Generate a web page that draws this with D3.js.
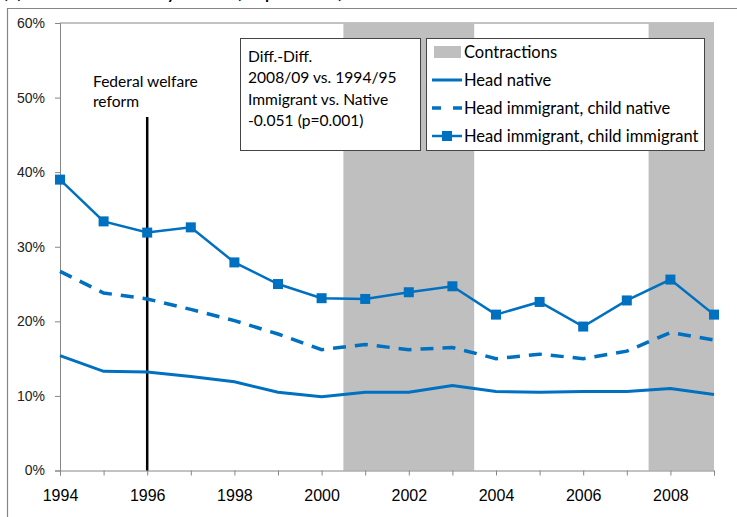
<!DOCTYPE html>
<html>
<head>
<meta charset="utf-8">
<script src="https://cdn.jsdelivr.net/npm/d3@7"></script>
<style>
  body { margin: 0; background: #fff; }
  svg { display: block; font-family: Lato, "Open Sans", sans-serif; }
</style>
</head>
<body>
<svg id="chart" width="737" height="517"></svg>
<script>
// years on the x axis
const years = d3.range(1994, 2010);
// shares (percent)
const headNative = [15.4, 13.3, 13.2, 12.6, 11.9, 10.5, 9.9, 10.5, 10.5, 11.4, 10.6, 10.5, 10.6, 10.6, 11.0, 10.2];
const headImmChildNative = [26.7, 23.8, 23.0, 21.6, 20.1, 18.3, 16.2, 16.9, 16.2, 16.5, 15.0, 15.6, 15.0, 16.0, 18.5, 17.5];
const headImmChildImm = [39.0, 33.4, 31.9, 32.6, 27.9, 25.0, 23.1, 23.0, 23.9, 24.7, 20.9, 22.6, 19.3, 22.8, 25.6, 20.9];
// recession periods, shaded
const contractions = [[2000.5, 2003.5], [2007.5, 2009]];
const yTicks = [0, 10, 20, 30, 40, 50, 60];
const xLabels = [1994, 1996, 1998, 2000, 2002, 2004, 2006, 2008];
const reformYear = 1996;
const diffLines = ["Diff.-Diff.", "2008/09 vs. 1994/95", "Immigrant vs. Native", "-0.051 (p=0.001)"];
const legendLabels = ["Contractions", "Head native", "Head immigrant, child native", "Head immigrant, child immigrant"];

const blue = "#0070C0";
const svg = d3.select("#chart");

const x = d3.scaleLinear().domain([1994, 2009]).range([60, 714]);
const y = d3.scaleLinear().domain([0, 60]).range([470.5, 23]);

// title, mostly cut off at the top
svg.append("text")
  .attr("x", 2).attr("y", -2)
  .attr("font-size", 22).attr("fill", "#000")
  .text("(c) Food insecurity rates (in percent)");

// outer frame
svg.append("path")
  .attr("d", "M7.5,520 V8.5 H740")
  .attr("fill", "none").attr("stroke", "#868686").attr("stroke-width", 1.2);

// plot top border
svg.append("line")
  .attr("x1", x(1994)).attr("x2", x(2009))
  .attr("y1", y(60)).attr("y2", y(60))
  .attr("stroke", "#868686");

// contraction bands
svg.selectAll("rect.band")
  .data(contractions)
  .enter()
  .append("rect")
  .attr("class", "band")
  .attr("x", d => x(d[0]))
  .attr("width", d => x(d[1]) - x(d[0]))
  .attr("y", y(60))
  .attr("height", y(0) - y(60))
  .attr("fill", "#BFBFBF");

// y axis
const yAxis = svg.append("g")
  .attr("transform", `translate(${x(1994)},0)`)
  .call(d3.axisLeft(y).tickValues(yTicks).tickSize(5).tickPadding(10).tickFormat(d => d + "%"));
yAxis.select(".domain").attr("stroke", "#868686");
yAxis.selectAll(".tick line").attr("stroke", "#868686");
yAxis.selectAll("text").attr("font-size", 14).attr("fill", "#222");

// x axis
const xAxis = svg.append("g")
  .attr("transform", `translate(0,${y(0)})`)
  .call(d3.axisBottom(x).tickValues(years).tickSize(5).tickPadding(14).tickFormat(d => xLabels.includes(d) ? d : ""));
xAxis.select(".domain").attr("stroke", "#868686");
xAxis.selectAll(".tick line").attr("stroke", "#868686");
xAxis.selectAll("text").attr("font-size", 16).attr("fill", "#000");

// welfare reform marker
svg.append("line")
  .attr("x1", x(reformYear)).attr("x2", x(reformYear))
  .attr("y1", 117).attr("y2", y(0))
  .attr("stroke", "#000").attr("stroke-width", 2.5);
svg.append("text")
  .attr("x", 93).attr("y", 87)
  .attr("font-size", 15.6).attr("fill", "#000")
  .text("Federal welfare");
svg.append("text")
  .attr("x", 93).attr("y", 107)
  .attr("font-size", 15.6).attr("fill", "#000")
  .text("reform");

const line = d3.line()
  .x((d, i) => x(years[i]))
  .y(d => y(d));

svg.append("path")
  .datum(headNative)
  .attr("d", line)
  .attr("fill", "none").attr("stroke", blue).attr("stroke-width", 3);

svg.append("path")
  .datum(headImmChildNative)
  .attr("d", line)
  .attr("fill", "none").attr("stroke", blue).attr("stroke-width", 3.5)
  .attr("stroke-dasharray", "13,9");

svg.append("path")
  .datum(headImmChildImm)
  .attr("d", line)
  .attr("fill", "none").attr("stroke", blue).attr("stroke-width", 2.5);

svg.selectAll("rect.marker")
  .data(headImmChildImm)
  .enter()
  .append("rect")
  .attr("class", "marker")
  .attr("x", (d, i) => x(years[i]) - 5)
  .attr("y", d => y(d) - 5)
  .attr("width", 10).attr("height", 10)
  .attr("fill", blue);

// diff-in-diff box
svg.append("rect")
  .attr("x", 240.5).attr("y", 38.5)
  .attr("width", 180).attr("height", 112)
  .attr("fill", "#fff").attr("stroke", "#444");
svg.selectAll("text.diff")
  .data(diffLines)
  .enter()
  .append("text")
  .attr("class", "diff")
  .attr("x", 248)
  .attr("y", (d, i) => 62 + i * 21.3)
  .attr("font-size", 15.6).attr("fill", "#000")
  .text(d => d);

// legend
const legend = svg.append("g");
legend.append("rect")
  .attr("x", 426.5).attr("y", 38.5)
  .attr("width", 278).attr("height", 112)
  .attr("fill", "#fff").attr("stroke", "#444");

const rowY = i => 52 + i * 28;
legend.append("rect")
  .attr("x", 434).attr("y", rowY(0) - 6)
  .attr("width", 27).attr("height", 12)
  .attr("fill", "#BFBFBF");
legend.append("line")
  .attr("x1", 432).attr("x2", 462).attr("y1", rowY(1)).attr("y2", rowY(1))
  .attr("stroke", blue).attr("stroke-width", 3);
legend.append("line")
  .attr("x1", 432).attr("x2", 462).attr("y1", rowY(2)).attr("y2", rowY(2))
  .attr("stroke", blue).attr("stroke-width", 3.5)
  .attr("stroke-dasharray", "9,12");
legend.append("line")
  .attr("x1", 432).attr("x2", 462).attr("y1", rowY(3)).attr("y2", rowY(3))
  .attr("stroke", blue).attr("stroke-width", 2.5);
legend.append("rect")
  .attr("x", 442).attr("y", rowY(3) - 5)
  .attr("width", 10).attr("height", 10)
  .attr("fill", blue);

legend.selectAll("text")
  .data(legendLabels)
  .enter()
  .append("text")
  .attr("x", 464)
  .attr("y", (d, i) => rowY(i) + 5.5)
  .attr("font-size", 16.5).attr("fill", "#000")
  .text(d => d);
</script>
</body>
</html>
